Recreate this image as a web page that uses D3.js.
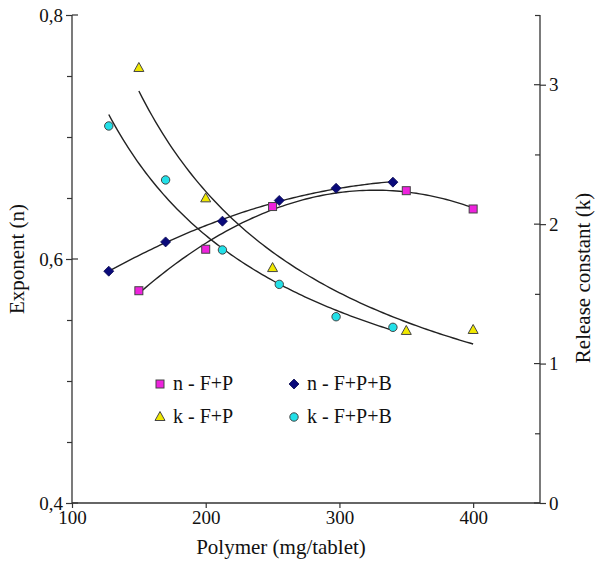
<!DOCTYPE html>
<html><head><meta charset="utf-8">
<script src="https://cdn.jsdelivr.net/npm/d3@7"></script>
<style>body{margin:0;background:#fff}svg{display:block}text{font-family:"Times New Roman",Times,"Liberation Serif","Noto Serif",Tinos,FreeSerif,"DejaVu Serif",serif;fill:#111}</style>
</head><body><svg id="c" width="603" height="562"></svg>
<script>
// Data
const xFP = [150, 200, 250, 350, 400];
const xFPB = [127.5, 170, 212.5, 255, 297.5, 340];
const nFP = [0.574, 0.608, 0.643, 0.656, 0.641];
const nFPB = [0.590, 0.614, 0.631, 0.648, 0.658, 0.663];
const kFP = [3.12, 2.185, 1.685, 1.234, 1.241];
const kFPB = [2.704, 2.317, 1.815, 1.568, 1.336, 1.26];
const xTicks = [100, 200, 300, 400];
const nTicks = [0.4, 0.6, 0.8];
const kTicks = [0, 1, 2, 3];
const legendLabels = ["n - F+P", "n - F+P+B", "k - F+P", "k - F+P+B"];

const FONT = '"Times New Roman",Times,"Liberation Serif","Noto Serif",Tinos,FreeSerif,"DejaVu Serif",serif';
const svg = d3.select("#c");
const x = d3.scaleLinear().domain([100, 450]).range([72, 540]);
const yN = d3.scaleLinear().domain([0.4, 0.8]).range([503, 15]);
const yK = d3.scaleLinear().domain([0, 3.5]).range([503, 15]);

function polyFit2(xs, ys) {
  const m = d3.mean(xs);
  const t = xs.map(v => v - m);
  let S = [[0,0,0],[0,0,0],[0,0,0]], R = [0,0,0];
  t.forEach((ti, i) => {
    const p = [1, ti, ti*ti];
    for (let r = 0; r < 3; r++) { R[r] += p[r]*ys[i]; for (let c = 0; c < 3; c++) S[r][c] += p[r]*p[c]; }
  });
  const A = S.map((row, i) => row.concat([R[i]]));
  for (let i = 0; i < 3; i++) for (let j = i+1; j < 3; j++) {
    const f = A[j][i]/A[i][i];
    for (let k = i; k < 4; k++) A[j][k] -= f*A[i][k];
  }
  const sol = [0,0,0];
  for (let i = 2; i >= 0; i--) {
    let s = A[i][3];
    for (let k = i+1; k < 3; k++) s -= A[i][k]*sol[k];
    sol[i] = s/A[i][i];
  }
  return v => sol[0] + sol[1]*(v-m) + sol[2]*(v-m)*(v-m);
}
function powerFit(xs, ys) {
  const lx = xs.map(Math.log), ly = ys.map(Math.log);
  const mx = d3.mean(lx), my = d3.mean(ly);
  let sxy = 0, sxx = 0;
  lx.forEach((v, i) => { sxy += (v-mx)*(ly[i]-my); sxx += (v-mx)*(v-mx); });
  const b = sxy/sxx, a = my - b*mx;
  return v => Math.exp(a + b*Math.log(v));
}
function curve(fn, x0, x1, ys) {
  const pts = d3.range(0, 101).map(i => { const v = x0 + (x1-x0)*i/100; return [x(v), ys(fn(v))]; });
  svg.append("path").attr("d", d3.line()(pts)).attr("fill", "none").attr("stroke", "#222").attr("stroke-width", 1.4);
}
curve(powerFit(xFP, kFP), d3.min(xFP), d3.max(xFP), yK);
curve(powerFit(xFPB, kFPB), d3.min(xFPB), d3.max(xFPB), yK);
curve(polyFit2(xFP, nFP), d3.min(xFP), d3.max(xFP), yN);
curve(polyFit2(xFPB, nFPB), d3.min(xFPB), d3.max(xFPB), yN);

const ax = "#333";
svg.append("line").attr("x1", x(100)).attr("x2", x(450)).attr("y1", 503).attr("y2", 503).attr("stroke", ax).attr("stroke-width", 1.3);
svg.append("line").attr("x1", x(100)).attr("x2", x(100)).attr("y1", yN(0.8)).attr("y2", yN(0.4)).attr("stroke", ax).attr("stroke-width", 1.3);
svg.append("line").attr("x1", x(450)).attr("x2", x(450)).attr("y1", yK(3.5)).attr("y2", yK(0)).attr("stroke", ax).attr("stroke-width", 1.3);

const gX = svg.append("g").attr("transform", "translate(0,503)")
  .call(d3.axisBottom(x).tickValues(xTicks).tickSize(5).tickSizeOuter(0).tickPadding(3).tickFormat(d3.format("d")));
const gL = svg.append("g").attr("transform", "translate(72,0)")
  .call(d3.axisLeft(yN).tickValues(nTicks).tickSize(6).tickSizeOuter(0).tickPadding(3).tickFormat(d => d3.format(".1f")(d).replace(".", ",")));
const gLm = svg.append("g").attr("transform", "translate(72,0)")
  .call(d3.axisLeft(yN).tickValues(d3.range(0.45, 0.8, 0.05).filter(v => Math.abs(v - 0.6) > 0.01)).tickSize(5).tickSizeOuter(0).tickFormat(""));
const gR = svg.append("g").attr("transform", "translate(540,0)")
  .call(d3.axisRight(yK).tickValues(kTicks).tickSize(6).tickSizeOuter(0).tickPadding(3).tickFormat(d3.format("d")));
const gRm = svg.append("g").attr("transform", "translate(540,0)")
  .call(d3.axisLeft(yK).tickValues([0.5, 1.5, 2.5, 3.5]).tickSize(5).tickSizeOuter(0).tickFormat(""));
svg.append("g").selectAll("line").data(nTicks).join("line")
  .attr("x1", 72).attr("x2", 78).attr("y1", d => yN(d)).attr("y2", d => yN(d)).attr("stroke", ax).attr("stroke-width", 1.2);
svg.append("g").selectAll("line").data(kTicks).join("line")
  .attr("x1", 534).attr("x2", 540).attr("y1", d => yK(d)).attr("y2", d => yK(d)).attr("stroke", ax).attr("stroke-width", 1.2);
[gX, gL, gLm, gR, gRm].forEach(g => {
  g.attr("font-family", FONT);
  g.select(".domain").remove();
  g.selectAll("line").attr("stroke", ax).attr("stroke-width", 1.2);
  g.selectAll("text").attr("font-size", 19).style("font-family", FONT).attr("fill", "#111");
});

svg.append("text").attr("x", 281).attr("y", 554).attr("text-anchor", "middle").attr("font-size", 21).text("Polymer (mg/tablet)");
svg.append("text").attr("transform", "translate(24,259) rotate(-90)").attr("text-anchor", "middle").attr("font-size", 21).text("Exponent (n)");
svg.append("text").attr("transform", "translate(590,278) rotate(-90)").attr("text-anchor", "middle").attr("font-size", 21).text("Release constant (k)");

const st = "#444";
function square(g, cx, cy) { g.append("rect").attr("x", cx-4).attr("y", cy-4).attr("width", 8).attr("height", 8).attr("fill", "#ee22dd").attr("stroke", st).attr("stroke-width", 1); }
function diamond(g, cx, cy) { g.append("path").attr("d", `M${cx},${cy-5}L${cx+5},${cy}L${cx},${cy+5}L${cx-5},${cy}Z`).attr("fill", "#0a0a7a").attr("stroke", "#0a0a50").attr("stroke-width", 0.8); }
function tri(g, cx, cy) { g.append("path").attr("d", `M${cx},${cy-5.5}L${cx+5},${cy+3.5}L${cx-5},${cy+3.5}Z`).attr("fill", "#f0e800").attr("stroke", st).attr("stroke-width", 1); }
function circ(g, cx, cy) { g.append("circle").attr("cx", cx).attr("cy", cy).attr("r", 4.2).attr("fill", "#22e0e8").attr("stroke", st).attr("stroke-width", 1); }
const gm = svg.append("g");
xFP.forEach((v, i) => square(gm, x(v), yN(nFP[i])));
xFPB.forEach((v, i) => diamond(gm, x(v), yN(nFPB[i])));
xFP.forEach((v, i) => tri(gm, x(v), yK(kFP[i])));
xFPB.forEach((v, i) => circ(gm, x(v), yK(kFPB[i])));

const lg = svg.append("g");
const lp = [[160, 384], [294, 384], [160, 417], [294, 417]];
const fns = [square, diamond, tri, circ];
legendLabels.forEach((t, i) => {
  fns[i](lg, lp[i][0], lp[i][1]);
  lg.append("text").attr("x", lp[i][0] + 13).attr("y", lp[i][1] + 6).attr("font-size", 20).text(t);
});
</script></body></html>
